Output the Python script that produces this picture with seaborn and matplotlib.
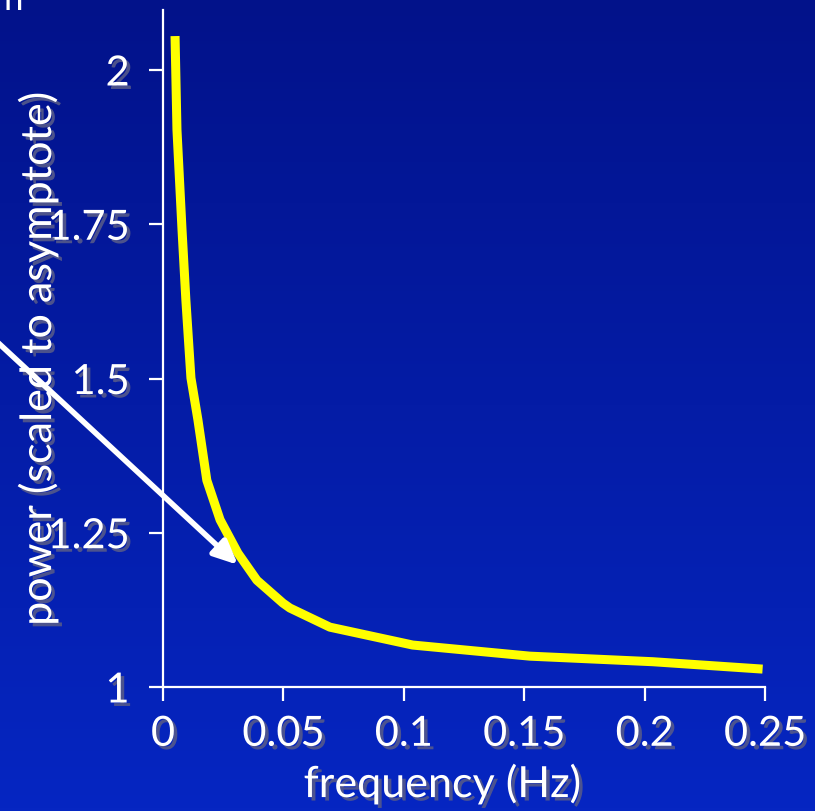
import numpy as np
import pandas as pd
import matplotlib
matplotlib.use("Agg")
import matplotlib.pyplot as plt
import matplotlib.patheffects as pe
import seaborn as sns

frequency = [0.0050, 0.0058, 0.0079, 0.0095, 0.0116, 0.0145, 0.0182, 0.0237,
             0.0311, 0.0390, 0.0498, 0.0527, 0.0693, 0.1037, 0.1523, 0.2033, 0.2490]
power = [2.055, 1.903, 1.741, 1.627, 1.501, 1.433, 1.335, 1.271,
         1.217, 1.173, 1.136, 1.128, 1.097, 1.068, 1.050, 1.041, 1.029]
xticks = [0, 0.05, 0.1, 0.15, 0.2, 0.25]
xticklabels = ["0", "0.05", "0.1", "0.15", "0.2", "0.25"]
yticks = [1, 1.25, 1.5, 1.75, 2]
yticklabels = ["1", "1.25", "1.5", "1.75", "2"]

df = pd.DataFrame({"frequency": frequency, "power": power})

sns.set_theme(style="ticks")
plt.rcParams["font.family"] = ["Lato", "DejaVu Sans"]

W, H = 815, 811
fig = plt.figure(figsize=(W / 100, H / 100), dpi=100)

# gradient background
bg = fig.add_axes([0, 0, 1, 1], zorder=-10)
top = np.array([2, 18, 138]) / 255
bot = np.array([6, 38, 194]) / 255
t = np.linspace(0, 1, 256)[:, None]
grad = top[None, None, :] * (1 - t[..., None]) + bot[None, None, :] * t[..., None]
grad = np.repeat(grad, 2, axis=1)
bg.imshow(grad, aspect="auto", extent=[0, 1, 0, 1], origin="upper")
bg.set_axis_off()

ax = fig.add_axes([163 / W, 1 - 687 / H, (765 - 163) / W, (687 - 10) / H])
ax.set_facecolor("none")
ax.patch.set_alpha(0)

sns.lineplot(data=df, x="frequency", y="power", ax=ax, color="#ffff00",
             linewidth=6.5, solid_capstyle="butt", solid_joinstyle="round")

ax.set_xlim(0, 0.25)
ax.set_ylim(1, 1 + 677 / 617)

shadow = [pe.withSimplePatchShadow(offset=(2.5, -2.5), shadow_rgbFace="#55598a", alpha=0.9)]

ax.set_xticks(xticks)
ax.set_xticklabels(xticklabels)
ax.set_yticks(yticks)
ax.set_yticklabels(yticklabels)
ax.tick_params(axis="both", colors="white", length=10, width=1.6, direction="out",
               labelsize=30, labelcolor="white")
ax.tick_params(axis="x", pad=10)
ax.tick_params(axis="y", pad=14)
for lbl in ax.get_xticklabels() + ax.get_yticklabels():
    lbl.set_path_effects(shadow)

for s in ["top", "right"]:
    ax.spines[s].set_visible(False)
for s in ["left", "bottom"]:
    ax.spines[s].set_color("white")
    ax.spines[s].set_linewidth(1.6)

ax.set_xlabel("frequency (Hz)", color="white", fontsize=31, path_effects=shadow)
ax.set_ylabel("power (scaled to asymptote)", color="white", fontsize=31,
              path_effects=shadow)
ax.xaxis.set_label_coords((442 - 163) / 602, (687 - 784) / 677)
ax.xaxis.label.set_va("center")
ax.yaxis.set_label_coords((38 - 163) / 602, (687 - 360) / 677)
ax.yaxis.label.set_va("center")

# arrow from left edge to curve
ax.annotate("", xy=(0.0311, 1.198), xycoords="data",
            xytext=(-0.002, 1 - 343 / H), textcoords="figure fraction",
            arrowprops=dict(arrowstyle="-|>,head_length=1.2,head_width=0.55",
                            color="white", lw=4, shrinkA=0, shrinkB=0),
            annotation_clip=False)

fig.text(0.004, 1.0, "n", color="white", fontsize=25, va="center", ha="left")

fig.savefig("out.png", dpi=100)
